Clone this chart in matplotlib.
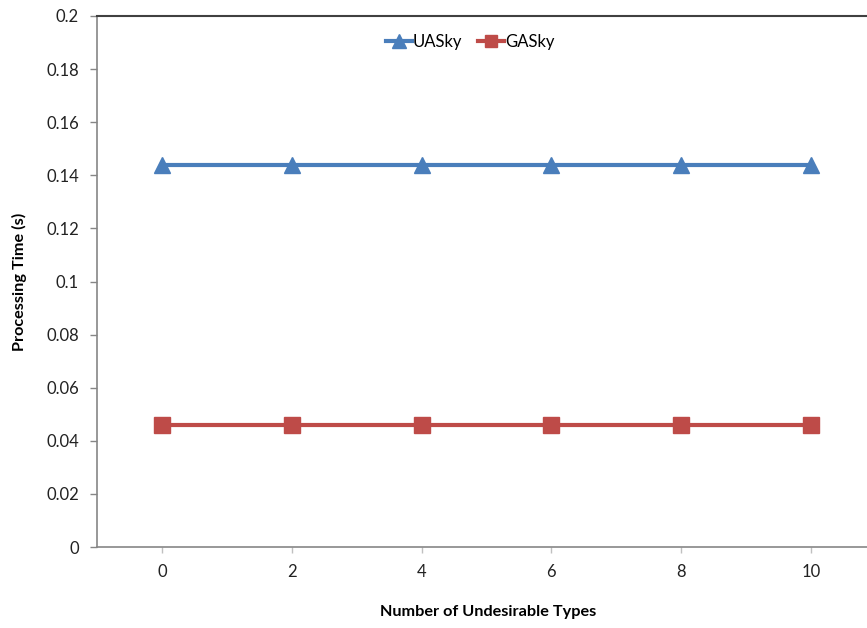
import matplotlib
matplotlib.use("Agg")
import matplotlib.pyplot as plt

types = [0, 2, 4, 6, 8, 10]
uasky = [0.144, 0.144, 0.144, 0.144, 0.144, 0.144]
gasky = [0.046, 0.046, 0.046, 0.046, 0.046, 0.046]
yticks = [0, 0.02, 0.04, 0.06, 0.08, 0.1, 0.12, 0.14, 0.16, 0.18, 0.2]
ytick_labels = ["0", "0.02", "0.04", "0.06", "0.08", "0.1", "0.12", "0.14", "0.16", "0.18", "0.2"]

plt.rcParams["font.family"] = ["Lato", "DejaVu Sans"]

fig = plt.figure(figsize=(8.67, 6.28), dpi=100)
ax = fig.add_axes([97 / 867, 81 / 628, 779 / 867, 531 / 628])

pos = list(range(len(types)))
ax.plot(pos, uasky, color="#4A7EBB", lw=3, marker="^", ms=12,
        markeredgecolor="#4A7EBB", label="UASky")
ax.plot(pos, gasky, color="#BE4B48", lw=3, marker="s", ms=11,
        markeredgecolor="#BE4B48", label="GASky")

ax.set_xlim(-0.5, len(types) - 0.5)
ax.set_ylim(0, 0.2)
ax.set_xticks(pos)
ax.set_xticklabels([str(t) for t in types])
ax.set_yticks(yticks)
ax.set_yticklabels(ytick_labels)

ax.tick_params(axis="y", length=5, width=1, color="#868686", labelsize=12,
               labelcolor="#222222", pad=8)
ax.tick_params(axis="x", length=4, width=1, color="#C0C0C0", labelsize=12,
               labelcolor="#222222", pad=8)

for side in ("left", "bottom"):
    ax.spines[side].set_color("#868686")
    ax.spines[side].set_linewidth(1.2)
ax.spines["top"].set_color("#404040")
ax.spines["top"].set_linewidth(1.5)
ax.spines["right"].set_visible(False)

ax.set_ylabel("Processing Time (s)", fontsize=11.7, fontweight="bold")
ax.yaxis.set_label_coords(-70 / 779, 0.5)
ax.set_xlabel("Number of Undesirable Types", fontsize=11.7, fontweight="bold")
ax.xaxis.set_label_coords(391 / 779, -58 / 531)

ax.legend(loc="upper center", bbox_to_anchor=(373 / 779, 0.995), ncol=2,
          frameon=False, fontsize=12, handlelength=1.6, handletextpad=0.05,
          columnspacing=0.9, markerscale=0.85)

fig.savefig("out.png", dpi=100)
